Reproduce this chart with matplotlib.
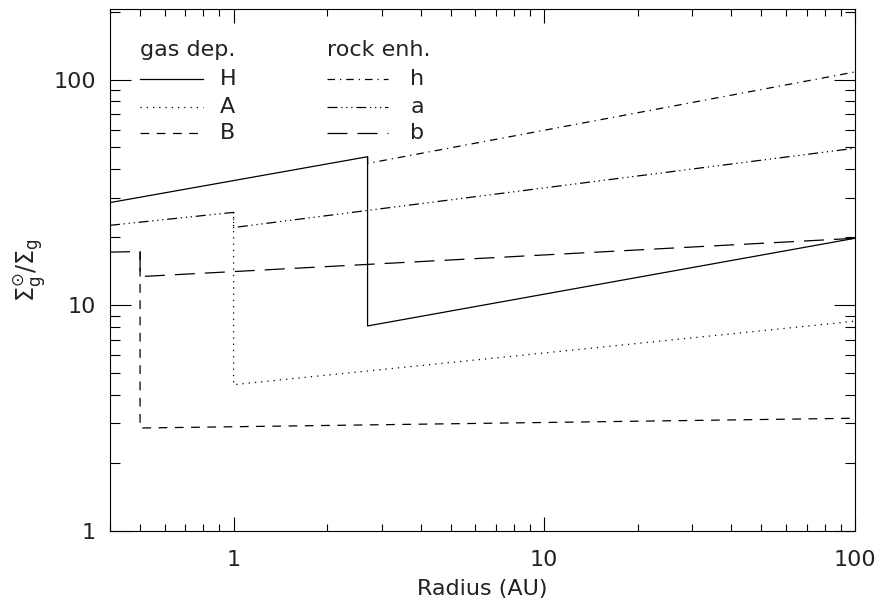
import matplotlib
matplotlib.use("Agg")
import matplotlib.pyplot as plt
from matplotlib.ticker import FixedLocator, NullFormatter, LogLocator

# gas depleted models (break at snow line)
H_x = [0.4, 2.7, 2.7, 100]
H_y = [28.5, 45.5, 8.1, 19.8]
A_x = [1.0, 1.0, 100]
A_y = [25.8, 4.45, 8.5]
B_x = [0.5, 0.5, 100]
B_y = [17.3, 2.86, 3.16]

# rock enhanced models
h_x = [2.7, 2.7, 100]
h_y = [45.5, 42.5, 108]
a_x = [0.4, 1.0, 1.0, 100]
a_y = [22.6, 25.8, 22.1, 49.6]
b_x = [0.4, 0.5, 0.5, 100]
b_y = [17.2, 17.3, 13.4, 19.8]

gas_labels = ["H", "A", "B"]
rock_labels = ["h", "a", "b"]

x_ticks = [1, 10, 100]
y_ticks = [1, 10, 100]

ls_solid = "-"
ls_dot = (0, (1, 4))
ls_dash = (0, (7, 6))
ls_dashdot = (0, (6, 4, 1, 4))
ls_dash3dot = (0, (8, 3, 1, 3, 1, 3, 1, 3))
ls_longdash = (0, (16, 8))

plt.rcParams["font.family"] = ["DejaVu Sans"]
txt_col = "#222222"

fig = plt.figure(figsize=(8.84, 6.09), dpi=100)
ax = fig.add_axes([0.1244, 0.128, 0.8426, 0.857])
lw = 0.9
ax.plot(H_x, H_y, color="black", lw=lw, ls=ls_solid)
ax.plot(A_x, A_y, color="black", lw=lw, ls=ls_dot)
ax.plot(B_x, B_y, color="black", lw=lw, ls=ls_dash)
ax.plot(h_x, h_y, color="black", lw=lw, ls=ls_dashdot)
ax.plot(a_x, a_y, color="black", lw=lw, ls=ls_dash3dot)
ax.plot(b_x, b_y, color="black", lw=lw, ls=ls_longdash)

ax.set_xscale("log")
ax.set_yscale("log")
ax.set_xlim(0.4, 100)
ax.set_ylim(1, 205)

ax.xaxis.set_major_locator(FixedLocator(x_ticks))
ax.yaxis.set_major_locator(FixedLocator(y_ticks))
ax.set_xticklabels([str(t) for t in x_ticks])
ax.set_yticklabels([str(t) for t in y_ticks])
ax.xaxis.set_minor_locator(LogLocator(base=10, subs=range(2, 10)))
ax.yaxis.set_minor_locator(LogLocator(base=10, subs=range(2, 10)))
ax.xaxis.set_minor_formatter(NullFormatter())
ax.yaxis.set_minor_formatter(NullFormatter())
ax.tick_params(which="both", direction="in", top=True, right=True,
               labelsize=16, width=0.8, colors="black", labelcolor=txt_col)
ax.tick_params(axis="x", which="major", length=10, pad=14)
ax.tick_params(axis="x", which="minor", length=5)
ax.tick_params(axis="y", which="major", length=15, pad=10)
ax.tick_params(axis="y", which="minor", length=7)
for sp in ax.spines.values():
    sp.set_linewidth(0.8)

ax.set_xlabel("Radius (AU)", fontsize=16, labelpad=6, color=txt_col)
ax.set_ylabel(r"$\Sigma_{\rm g}^{\odot}/\Sigma_{\rm g}$", fontsize=17,
              labelpad=4, color=txt_col)

# legend drawn by hand in axes coordinates
tr = ax.transAxes
ax.text(0.04, 0.921, "gas dep.", transform=tr, fontsize=16, va="center",
        color=txt_col)
ax.text(0.292, 0.921, "rock enh.", transform=tr, fontsize=16, va="center",
        color=txt_col)
gas_styles = [ls_solid, ls_dot, ls_dash]
rock_styles = [ls_dashdot, ls_dash3dot, ls_longdash]
rows = [0.866, 0.812, 0.762]
for lab, st, yy in zip(gas_labels, gas_styles, rows):
    ax.plot([0.04, 0.125], [yy, yy], transform=tr, color="black", lw=lw, ls=st)
    ax.text(0.148, yy, lab, transform=tr, fontsize=16, va="center",
            color=txt_col)
for lab, st, yy in zip(rock_labels, rock_styles, rows):
    ax.plot([0.291, 0.373], [yy, yy], transform=tr, color="black", lw=lw, ls=st)
    ax.text(0.403, yy, lab, transform=tr, fontsize=16, va="center",
            color=txt_col)

fig.savefig("out.png", dpi=100)
